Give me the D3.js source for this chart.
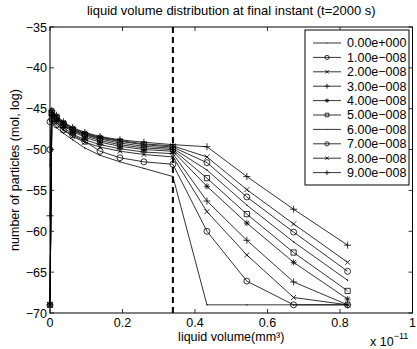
<!DOCTYPE html>
<html lang="en">
<head>
<meta charset="UTF-8">
<title>liquid volume distribution</title>
<script src="https://d3js.org/d3.v7.min.js"></script>
<style>
  body { margin: 0; background: #fff; }
  svg text { font-family: "Liberation Sans", Arial, sans-serif; fill: #000; }
</style>
</head>
<body>
<svg id="chart" width="417" height="349"></svg>
<script>
// liquid volume classes (x 1e-11 mm3)
var volumes = [0, 0.005, 0.018, 0.037, 0.0625, 0.096, 0.138, 0.193, 0.259, 0.339, 0.433, 0.543, 0.672, 0.821];

// legend labels (time of each curve)
var seriesNames = ["0.00e+000", "1.00e\u2212008", "2.00e\u2212008", "3.00e\u2212008", "4.00e\u2212008",
                   "5.00e\u2212008", "6.00e\u2212008", "7.00e\u2212008", "8.00e\u2212008", "9.00e\u2212008"];
var seriesMarkers = [".", "o", "x", "+", "*", "s", ".", "o", "x", "+"];

// number of particles (mol, log), one array per curve
var s0 = [-69, -46.5, -47.3, -48.0, -48.8, -49.8, -50.7, -51.5, -52.3, -53.3, -69, -69, -69, -69];
var s1 = [-46.6, -46.3, -47.0, -47.6, -48.2, -49.0, -50.2, -51.0, -51.5, -51.8, -60.0, -66.1, -69, -69];
var s2 = [-69, -46.0, -46.7, -47.6, -48.4, -49.1, -49.7, -50.2, -50.6, -50.9, -57.6, -62.9, -68.1, -69];
var s3 = [-58.1, -45.8, -46.5, -47.3, -48.1, -48.8, -49.4, -49.9, -50.3, -50.5, -56.3, -61.1, -66.2, -69];
var s4 = [-69, -45.7, -46.3, -47.1, -47.8, -48.5, -49.1, -49.6, -50.0, -50.2, -54.5, -59.0, -63.8, -68.3];
var s5 = [-69, -45.6, -46.2, -47.0, -47.7, -48.3, -48.9, -49.4, -49.8, -50.0, -53.5, -57.9, -62.6, -67.3];
var s6 = [-52, -45.5, -46.1, -46.9, -47.6, -48.2, -48.7, -49.2, -49.6, -49.85, -52.5, -56.8, -61.3, -66.0];
var s7 = [-50, -45.4, -46.0, -46.8, -47.5, -48.1, -48.6, -49.0, -49.4, -49.7, -51.6, -55.8, -60.1, -64.9];
var s8 = [-69, -45.3, -45.9, -46.7, -47.4, -48.0, -48.5, -48.9, -49.3, -49.55, -50.9, -54.9, -59.1, -63.8];
var s9 = [-69, -45.2, -45.8, -46.6, -47.3, -47.9, -48.4, -48.8, -49.1, -49.4, -49.65, -53.3, -57.3, -61.7];

var xTicks = [0, 0.2, 0.4, 0.6, 0.8, 1];
var yTicks = [-70, -65, -60, -55, -50, -45, -40, -35];
var thresholdVolume = 0.339;

var allSeries = [s0, s1, s2, s3, s4, s5, s6, s7, s8, s9];

var svg = d3.select("#chart");
var mLeft = 50, mRight = 412.5, mTop = 27, mBottom = 313;

var x = d3.scaleLinear().domain([0, 1]).range([mLeft, mRight]);
var y = d3.scaleLinear().domain([-70, -35]).range([mBottom, mTop]);

// marker shapes, drawn as paths centred on 0,0
function markerPath(m) {
    if (m == "o") return d3.symbol(d3.symbolCircle, 28)();
    if (m == "s") return "M-2.6,-2.6H2.6V2.6H-2.6Z";
    if (m == "+") return "M-3.5,0H3.5M0,-3.5V3.5";
    if (m == "x") return "M-2.5,-2.5L2.5,2.5M-2.5,2.5L2.5,-2.5";
    if (m == "*") return "M-3,0H3M0,-3V3M-2.2,-2.2L2.2,2.2M-2.2,2.2L2.2,-2.2";
    return d3.symbol(d3.symbolCircle, 1.5)();
}

function drawMarker(g, m, px, py, sc) {
    var p = g.append("path")
        .attr("d", markerPath(m))
        .attr("transform", "translate(" + px + "," + py + ") scale(" + (sc || 1) + ")")
        .attr("stroke", "#000")
        .attr("stroke-width", 0.8 / (sc || 1));
    if (m == ".") p.attr("fill", "#000").attr("stroke", "none");
    else p.attr("fill", "none");
}

// axes box with inward ticks
var axG = svg.append("g");
axG.append("rect")
    .attr("x", mLeft).attr("y", mTop)
    .attr("width", mRight - mLeft).attr("height", mBottom - mTop)
    .attr("fill", "none").attr("stroke", "#000").attr("stroke-width", 1);

xTicks.forEach(function(t) {
    axG.append("line").attr("x1", x(t)).attr("x2", x(t)).attr("y1", mBottom).attr("y2", mBottom - 4)
        .attr("stroke", "#000").attr("stroke-width", 0.8);
    axG.append("line").attr("x1", x(t)).attr("x2", x(t)).attr("y1", mTop).attr("y2", mTop + 4)
        .attr("stroke", "#000").attr("stroke-width", 0.8);
    axG.append("text").attr("x", x(t)).attr("y", mBottom + 14)
        .attr("text-anchor", "middle").attr("font-size", 12.5)
        .text(t);
});
yTicks.forEach(function(t) {
    axG.append("line").attr("x1", mLeft).attr("x2", mLeft + 4).attr("y1", y(t)).attr("y2", y(t))
        .attr("stroke", "#000").attr("stroke-width", 0.8);
    axG.append("line").attr("x1", mRight).attr("x2", mRight - 4).attr("y1", y(t)).attr("y2", y(t))
        .attr("stroke", "#000").attr("stroke-width", 0.8);
    axG.append("text").attr("x", mLeft - 3).attr("y", y(t) + 4.5)
        .attr("text-anchor", "end").attr("font-size", 12.5)
        .text(String(t).replace("-", "\u2212"));
});

// threshold dashed line
svg.append("line")
    .attr("x1", x(thresholdVolume)).attr("x2", x(thresholdVolume))
    .attr("y1", mTop).attr("y2", mBottom)
    .attr("stroke", "#000").attr("stroke-width", 2)
    .attr("stroke-dasharray", "6,4");

// curves
var line = d3.line()
    .x(function(d, i) { return x(volumes[i]); })
    .y(function(d) { return y(d); });

var plotG = svg.append("g");
allSeries.forEach(function(vals, k) {
    plotG.append("path")
        .attr("d", line(vals))
        .attr("fill", "none")
        .attr("stroke", "#000")
        .attr("stroke-width", 0.8);
    vals.forEach(function(v, i) {
        drawMarker(plotG, seriesMarkers[k], x(volumes[i]), y(v));
    });
});

// labels
svg.append("text").attr("x", (mLeft + mRight) / 2).attr("y", 15)
    .attr("text-anchor", "middle").attr("font-size", 13)
    .text("liquid volume distribution at final instant (t=2000 s)");

svg.append("text").attr("x", (mLeft + mRight) / 2).attr("y", 341)
    .attr("text-anchor", "middle").attr("font-size", 12.5)
    .text("liquid volume(mm\u00b3)");

svg.append("text")
    .attr("transform", "translate(19," + (mTop + mBottom) / 2 + ") rotate(-90)")
    .attr("text-anchor", "middle").attr("font-size", 12.5)
    .text("number of particles (mol, log)");

var expG = svg.append("text").attr("x", 370).attr("y", 346).attr("font-size", 12.5);
expG.append("tspan").text("x 10");
expG.append("tspan").attr("dy", -7).attr("font-size", 9).text("\u221211");

// legend
var legX = 305, legY = 30, legW = 104, legH = 155;
var legG = svg.append("g");
legG.append("rect").attr("x", legX).attr("y", legY).attr("width", legW).attr("height", legH)
    .attr("fill", "#fff").attr("stroke", "#000").attr("stroke-width", 1);
seriesNames.forEach(function(name, k) {
    var ry = legY + 13 + k * 14.4;
    legG.append("line").attr("x1", legX + 8).attr("x2", legX + 36).attr("y1", ry).attr("y2", ry)
        .attr("stroke", "#000").attr("stroke-width", 0.8);
    drawMarker(legG, seriesMarkers[k], legX + 22, ry, 0.7);
    legG.append("text").attr("x", legX + 42).attr("y", ry + 4.3)
        .attr("font-size", 12.5).text(name);
});
</script>
</body>
</html>
